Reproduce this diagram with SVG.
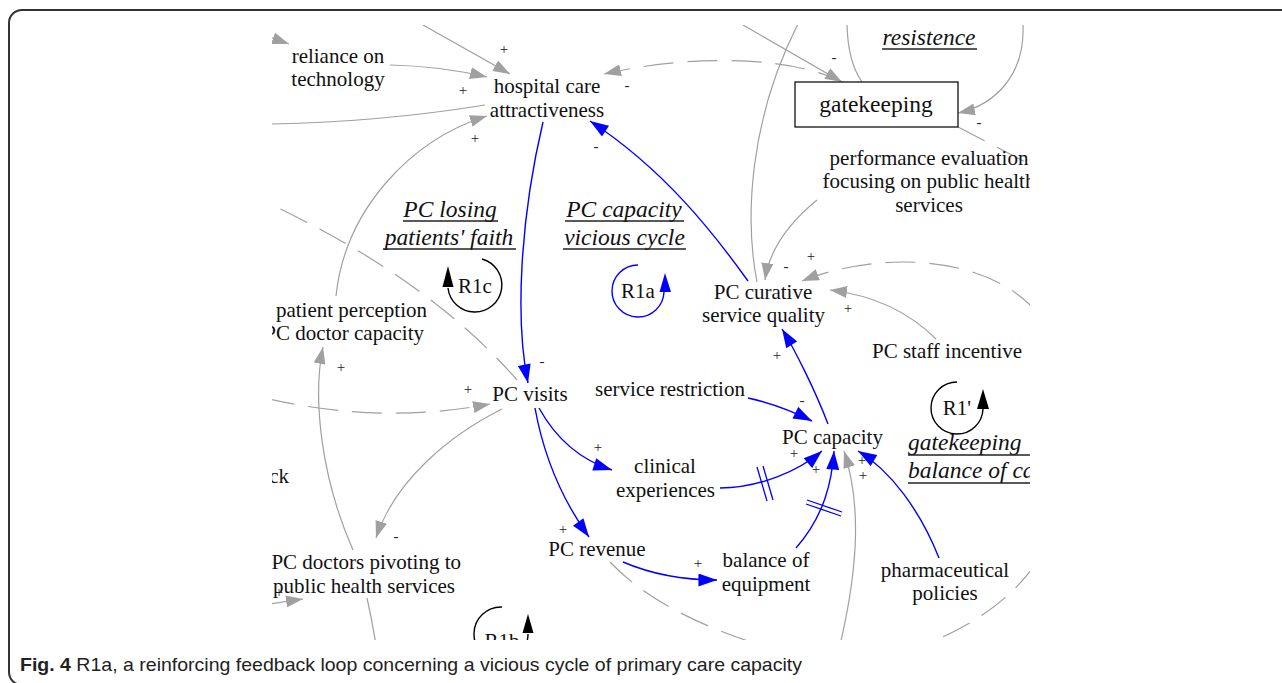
<svg xmlns="http://www.w3.org/2000/svg" width="1282" height="683" viewBox="0 0 1282 683">
<style>
.t{font-family:"Liberation Serif","Times New Roman",serif;font-size:21px;fill:#111;text-anchor:middle}
.i{font-family:"Liberation Serif","Times New Roman",serif;font-size:23.5px;font-style:italic;fill:#111;text-anchor:middle}
.s{font-family:"Liberation Serif","Times New Roman",serif;font-size:15px;fill:#222;text-anchor:middle}
.u{stroke:#222;stroke-width:1.3}
.b{fill:none;stroke:#0000ff;stroke-width:1.4}
.g{fill:none;stroke:#a0a0a0;stroke-width:1.2}
.d{fill:none;stroke:#a0a0a0;stroke-width:1.2;stroke-dasharray:30 14}
</style>
<defs>
<clipPath id="clip"><rect x="272" y="25" width="758" height="615"/></clipPath>
<marker id="ab" viewBox="0 0 20 14" refX="20" refY="7" markerWidth="20" markerHeight="13" markerUnits="userSpaceOnUse" orient="auto"><path d="M0,0 L20,7 L0,14 Z" fill="#0000ff"/></marker>
<marker id="ag" viewBox="0 0 17 12" refX="17" refY="6" markerWidth="17" markerHeight="12" markerUnits="userSpaceOnUse" orient="auto"><path d="M0,0 L17,6 L0,12 Z" fill="#a0a0a0"/></marker>
</defs>
<rect width="1282" height="683" fill="#fff"/>
<rect x="9" y="10" width="1300" height="675" rx="13" fill="none" stroke="#333" stroke-width="2"/>
<g clip-path="url(#clip)">
<g id="connectors">
<path class="b" d="M543,122 C520,220 515,320 528,383" marker-end="url(#ab)"/>
<path class="b" d="M748,281 C715,235 665,170 590,121" marker-end="url(#ab)"/>
<path class="b" d="M748,398 Q780,405 812,421" marker-end="url(#ab)"/>
<path class="b" d="M828,424 C815,390 795,350 782,329" marker-end="url(#ab)"/>
<path class="b" d="M539,408 Q565,455 612,470" marker-end="url(#ab)"/>
<path class="b" d="M535,408 Q548,480 589,537" marker-end="url(#ab)"/>
<path class="b" d="M623,562 Q665,580 717,580" marker-end="url(#ab)"/>
<path class="b" d="M720,488 C760,488 800,470 822,451" marker-end="url(#ab)"/>
<path class="b" d="M796,548 C825,515 832,480 834,451" marker-end="url(#ab)"/>
<path class="b" d="M939,558 C920,510 890,470 858,451" marker-end="url(#ab)"/>
<path d="M757,467 L767,501 M763,466 L773,500 M807,500 L842,512 M806,504 L841,516" stroke="#0000ff" stroke-width="1.3" fill="none"/>
<path class="g" d="M423,25 L510,74" marker-end="url(#ag)"/>
<path class="g" d="M390,65 Q440,66 487,77" marker-end="url(#ag)"/>
<path class="g" d="M485,105 Q380,122 272,124"/>
<path class="g" d="M336,296 C345,210 410,140 487,116" marker-end="url(#ag)"/>
<path class="g" d="M353,550 C322,480 312,400 323,347" marker-end="url(#ag)"/>
<path class="g" d="M502,409 C450,435 395,480 376,538" marker-end="url(#ag)"/>
<path class="g" d="M367,598 Q372,620 376,645"/>
<path class="g" d="M262,605 L303,599" marker-end="url(#ag)"/>
<path class="g" d="M250,30 L289,44" marker-end="url(#ag)"/>
<path class="g" d="M757,282 C745,220 748,120 800,20"/>
<path class="g" d="M817,200 C795,218 770,245 765,280" marker-end="url(#ag)"/>
<path class="g" d="M847,25 Q848,62 862,82"/>
<path class="g" d="M1023,25 C1025,75 995,105 958,113" marker-end="url(#ag)"/>
<path class="g" d="M743,25 L842,82" marker-end="url(#ag)"/>
<path class="g" d="M936,339 Q895,298 830,290" marker-end="url(#ag)"/>
<path class="g" d="M840,645 C860,560 860,500 844,451" marker-end="url(#ag)"/>
<path class="d" d="M846,84 C800,58 700,52 604,74" marker-end="url(#ag)"/>
<path class="d" d="M958,127 L1035,167"/>
<path class="d" d="M1035,310 C985,255 880,250 802,281" marker-end="url(#ag)"/>
<path class="d" d="M517,380 Q430,280 272,205"/>
<path class="d" d="M265,398 Q380,425 490,404" marker-end="url(#ag)"/>
<path class="d" d="M610,562 Q660,615 770,648"/>
<path class="d" d="M1035,565 Q995,620 915,648"/>
</g>
<g id="signs">
<text class="s" x="504" y="54">+</text>
<text class="s" x="463" y="95">+</text>
<text class="s" x="475" y="143">+</text>
<text class="s" x="627" y="90">-</text>
<text class="s" x="596" y="151">-</text>
<text class="s" x="834" y="62">-</text>
<text class="s" x="979" y="127">-</text>
<text class="s" x="542" y="366">-</text>
<text class="s" x="341" y="372">+</text>
<text class="s" x="468" y="394">+</text>
<text class="s" x="811" y="261">+</text>
<text class="s" x="786" y="271">-</text>
<text class="s" x="848" y="313">+</text>
<text class="s" x="777" y="360">+</text>
<text class="s" x="802" y="405">-</text>
<text class="s" x="794" y="458">+</text>
<text class="s" x="816" y="474">+</text>
<text class="s" x="862" y="465">+</text>
<text class="s" x="863" y="480">+</text>
<text class="s" x="598" y="452">+</text>
<text class="s" x="563" y="534">+</text>
<text class="s" x="396" y="541">-</text>
<text class="s" x="698" y="568">+</text>
<text class="s" x="279" y="597">+</text>
</g>
<g id="reliance"><text class="t" x="338" y="63">reliance on</text><text class="t" x="338" y="86">technology</text></g>
<g id="hospital"><text class="t" x="547" y="93">hospital care</text><text class="t" x="547" y="117">attractiveness</text></g>
<g id="gatekeeping"><rect x="795" y="82" width="163" height="45" fill="#fff" stroke="#111" stroke-width="1.3"/><text class="t" x="876" y="112" style="font-size:23.5px">gatekeeping</text></g>
<g id="resistence"><text class="i" x="929" y="45">resistence</text><line class="u" x1="882" y1="49" x2="977" y2="49"/></g>
<g id="performance"><text class="t" x="929" y="165">performance evaluation</text><text class="t" x="929" y="188">focusing on public health</text><text class="t" x="929" y="212">services</text></g>
<g id="loop-r1c-label"><text class="i" x="450" y="217">PC losing</text><line class="u" x1="403" y1="221" x2="498" y2="221"/><text class="i" x="449" y="245">patients' faith</text><line class="u" x1="383" y1="249" x2="516" y2="249"/></g>
<g id="loop-r1a-label"><text class="i" x="624" y="217">PC capacity</text><line class="u" x1="565" y1="221" x2="684" y2="221"/><text class="i" x="624.5" y="245">vicious cycle</text><line class="u" x1="563" y1="249" x2="686" y2="249"/></g>
<g id="loop-r1p-label"><text class="i" x="908" y="450" style="text-anchor:start">gatekeeping</text><line class="u" x1="908" y1="455" x2="1030" y2="455"/><text class="i" x="908" y="478" style="text-anchor:start">balance of care</text><line class="u" x1="908" y1="483" x2="1030" y2="483"/></g>
<g id="R1c"><path d="M482,259 A27,27 0 1,1 448,288" fill="none" stroke="#000" stroke-width="1.4"/><path d="M442.5,287 L448,266 L453.5,287 Z" fill="#000"/><text class="t" x="475" y="293">R1c</text></g>
<g id="R1a"><path d="M638,265 A26,26 0 1,0 664,292" fill="none" stroke="#0000ff" stroke-width="1.4"/><path d="M659.5,292 L665,273 L671,292 Z" fill="#0000ff"/><text class="t" x="638" y="298">R1a</text></g>
<g id="R1p"><path d="M957,382 A26,26 0 1,0 983,409" fill="none" stroke="#000" stroke-width="1.4"/><path d="M977,409 L983,389 L989,409 Z" fill="#000"/><text class="t" x="957" y="415">R1'</text></g>
<g id="R1b"><path d="M502,607 A27,27 0 1,0 528,634" fill="none" stroke="#000" stroke-width="1.4"/><path d="M522.5,633 L528,614 L533.5,633 Z" fill="#000"/><text class="t" x="502" y="648">R1b</text></g>
<g id="patient-perception"><text class="t" x="427" y="317" style="text-anchor:end">patient perception</text><text class="t" x="424" y="340" style="text-anchor:end">PC doctor capacity</text></g>
<g id="pc-visits"><text class="t" x="530" y="401">PC visits</text></g>
<g id="service-restriction"><text class="t" x="670" y="396">service restriction</text></g>
<g id="pc-curative"><text class="t" x="763" y="299">PC curative</text><text class="t" x="763.5" y="322">service quality</text></g>
<g id="pc-staff-incentive"><text class="t" x="947" y="358">PC staff incentive</text></g>
<g id="pc-capacity"><text class="t" x="832.5" y="444">PC capacity</text></g>
<g id="clinical"><text class="t" x="665" y="473">clinical</text><text class="t" x="665.5" y="497">experiences</text></g>
<g id="pc-revenue"><text class="t" x="597" y="556">PC revenue</text></g>
<g id="balance-equipment"><text class="t" x="766" y="567">balance of</text><text class="t" x="766" y="591">equipment</text></g>
<g id="pharma"><text class="t" x="945" y="577">pharmaceutical</text><text class="t" x="945" y="600">policies</text></g>
<g id="pc-doctors"><text class="t" x="461" y="569" style="text-anchor:end">PC doctors pivoting to</text><text class="t" x="455" y="593" style="text-anchor:end">public health services</text></g>
<g id="ck"><text class="t" x="289" y="483" style="text-anchor:end">ck</text></g>
</g>
<text x="20" y="671" textLength="782" lengthAdjust="spacingAndGlyphs" style="font-family:'Liberation Sans',Arial,sans-serif;font-size:19px;fill:#222"><tspan style="font-weight:bold">Fig. 4</tspan> R1a, a reinforcing feedback loop concerning a vicious cycle of primary care capacity</text>
</svg>
